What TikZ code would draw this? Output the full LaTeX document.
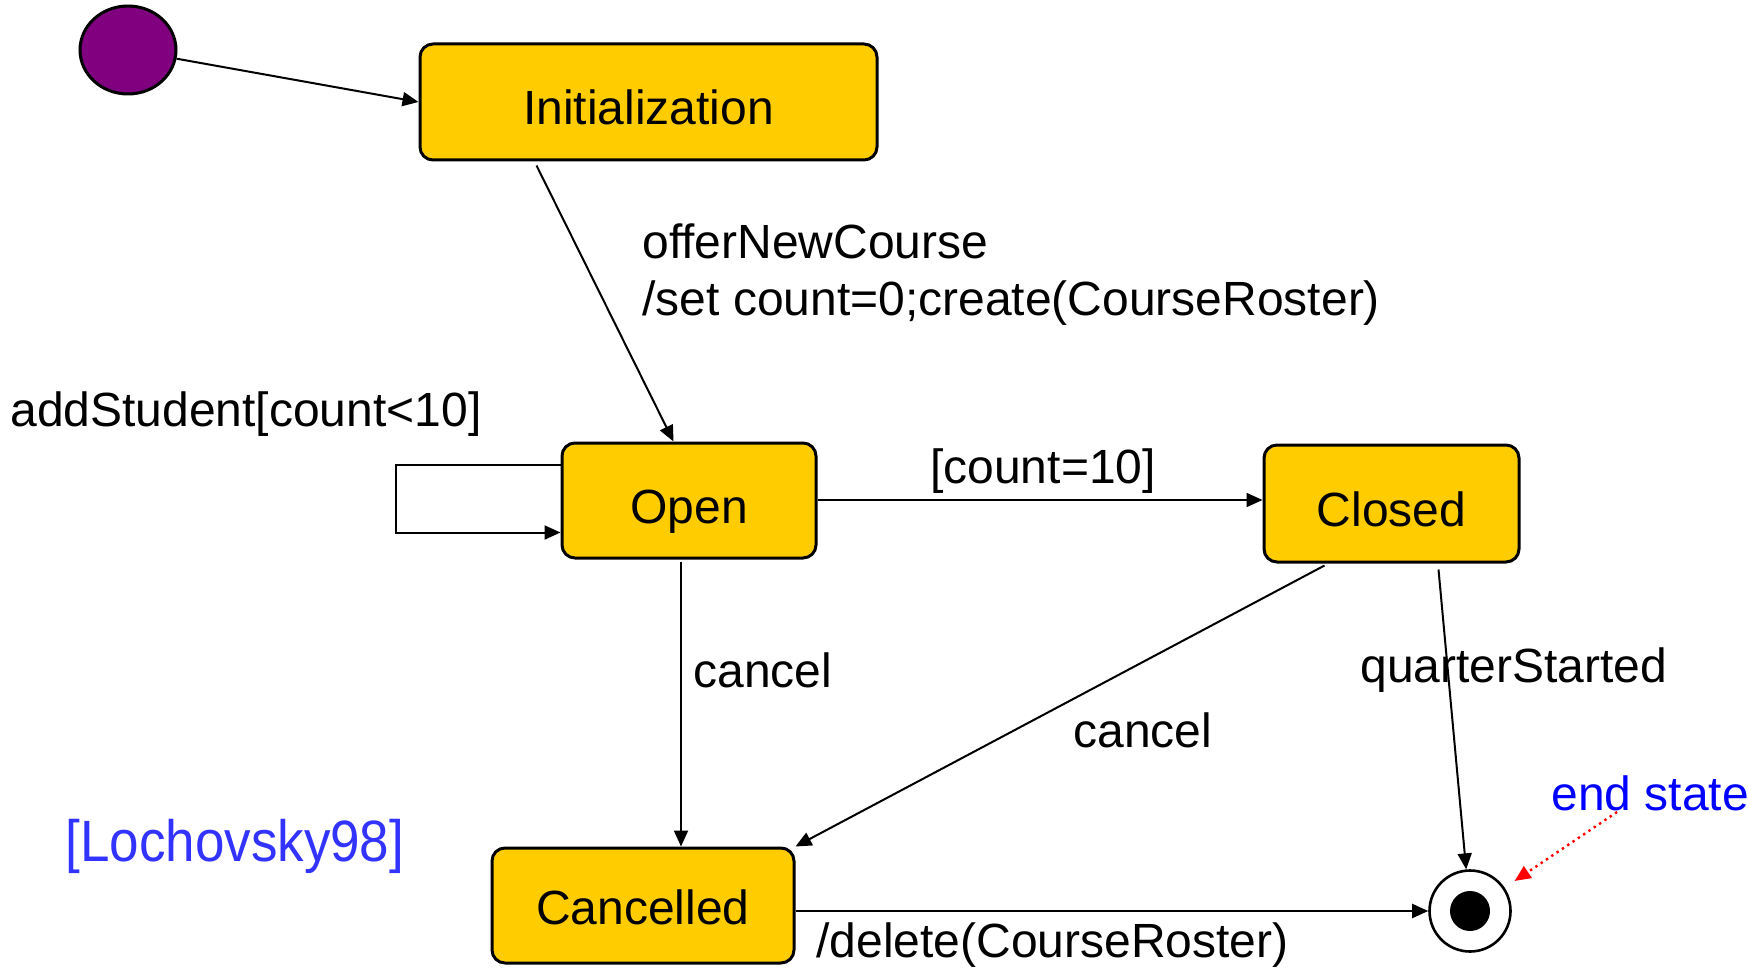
\documentclass[tikz,border=0pt]{standalone}
\usepackage{fontspec}
\setmainfont{Liberation Sans}
\usetikzlibrary{arrows.meta,shapes.geometric}
\definecolor{stateyellow}{RGB}{255,204,0}
\definecolor{initpurple}{RGB}{128,0,128}
\definecolor{refblue}{RGB}{51,51,255}
\tikzset{
  statebox/.style={draw=black, line width=1.5pt, fill=stateyellow, rounded corners=6.5pt,
    font=\fontsize{24}{29}\selectfont, text height=23pt, text depth=0pt, inner sep=0pt},
  lbl/.style={inner sep=0pt, font=\fontsize{24}{28}\selectfont},
  arr/.style={line width=1pt, -{Triangle[length=8pt,width=7pt]}},
}
\begin{document}
\begin{tikzpicture}[x=0.5pt,y=-0.5pt]
\useasboundingbox (0,0) rectangle (1749,973);
% states
\node[draw=black, line width=1.5pt, fill=initpurple, ellipse, minimum width=48pt, minimum height=44pt, inner sep=0pt] (i) at (128,50) {};
\node[statebox, minimum width=228.5pt, minimum height=58pt] (ib) at (648.5,102) {Initialization};
\node[statebox, minimum width=127pt, minimum height=57.5pt] (op) at (689,500.5) {Open};
\node[statebox, minimum width=127.5pt, minimum height=58.5pt] (cl) at (1391.5,503.5) {Closed};
\node[statebox, text height=19pt, minimum width=151pt, minimum height=57.5pt] (ca) at (643,905.5) {Cancelled};
\node[draw=black, line width=1.3pt, circle, fill=white, minimum size=40.5pt, inner sep=0pt] (ce) at (1470,911) {};
\node[circle, fill=black, minimum size=20pt, inner sep=0pt] (cedot) at (ce) {};
% labels
\node[lbl, anchor=base west] (l1) at (642,258) {offerNewCourse};
\node[lbl, anchor=base west] (l2) at (642,315) {/set count=0;create(CourseRoster)};
\node[lbl, anchor=base west] (l3) at (10,426) {addStudent[count<10]};
\node[lbl, anchor=base] (l4) at (1043,483) {[count=10]};
\node[lbl, anchor=base west] (l5) at (693,687) {cancel};
\node[lbl, anchor=base west] (l6) at (1073,747) {cancel};
\node[lbl, anchor=base west] (l7) at (1360,682) {quarterStarted};
\node[lbl, anchor=base west, text=blue] (es) at (1551,810) {end state};
\node[lbl, anchor=base west, text=refblue, font=\fontsize{26.5}{30}\selectfont] (ref) at (65,861) {\scalebox{1}[1.1]{[Lochovsky98]}};
\node[lbl, anchor=base west] (l8) at (816,957) {/delete(CourseRoster)};
% transitions
\draw[arr] (i) -- (ib.west);
\draw[arr] ([xshift=59pt,yshift=-2pt]ib.south west) -- ([xshift=56.5pt]op.north west);
\draw[arr] ([yshift=-11.5pt]op.north west) -- ++(-82.5pt,0) |- ([yshift=13.5pt]op.south west);
\draw[arr] ([yshift=0.25pt]op.east) -- ([yshift=0.25pt]op.east -| cl.west);
\draw[arr] ([xshift=-4pt,yshift=-1pt]op.south) -- ([xshift=-4pt]op.south |- ca.north);
\draw[arr] ([xshift=31pt,yshift=-1pt]cl.south west) -- (ca.north east);
\draw[arr] ([xshift=-41pt,yshift=-3pt]cl.south east) -- (ce);
\draw[arr] (ca.east |- ce) -- (ce.west);
\draw[red, line width=1.2pt, dotted, shorten >=6pt, -{Triangle[length=8pt,width=7pt]}] ([xshift=33pt,yshift=-1pt]es.base west) -- (ce);
\end{tikzpicture}
\end{document}
